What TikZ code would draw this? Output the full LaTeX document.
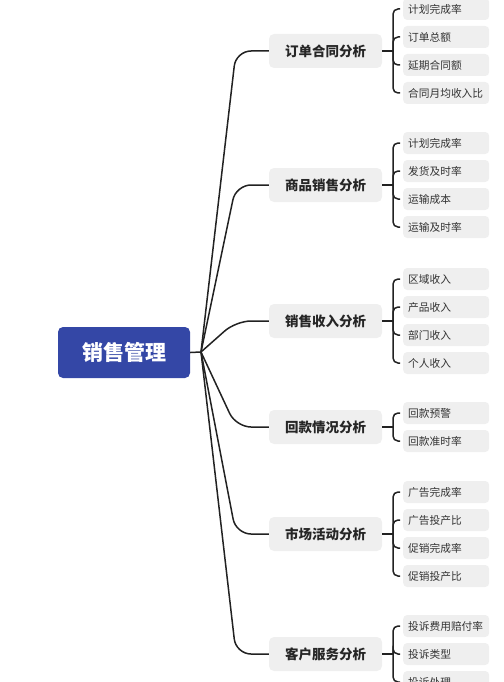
\documentclass[tikz,border=0pt]{standalone}
\usepackage{fontspec}
\setmainfont{Noto Sans CJK SC}
\definecolor{rootblue}{HTML}{3447A6}
\definecolor{boxgray}{HTML}{EFEFEF}
\definecolor{linegray}{HTML}{222222}
\tikzset{
  rootbox/.style={fill=rootblue, text=white, rounded corners=5pt, minimum width=132pt, minimum height=51pt, font=\fontsize{21}{24}\selectfont\bfseries},
  midbox/.style={fill=boxgray, text=black!85, rounded corners=5pt, minimum width=113pt, minimum height=34pt, font=\fontsize{13.5}{16}\selectfont\bfseries},
  leafbox/.style={fill=boxgray, text=black!80, rounded corners=4pt, minimum height=22pt, inner xsep=5pt, text width=76pt, align=left, anchor=west, font=\fontsize{10.7}{13}\selectfont},
  link/.style={draw=linegray, line width=1.5pt, rounded corners=15pt},
}
\begin{document}
\begin{tikzpicture}[x=1pt,y=-1pt]
  \useasboundingbox (0,0) rectangle (503,682);
  \node[rootbox] (root) at (124,352.5) {销售管理};
  \coordinate (fan) at (201,352);
  \draw[link] (root.east) -- (fan);
  % branches and their leaves
  \foreach \i/\y/\c/\names/\txt in {
      1/51/4/{计划完成率,订单总额,延期合同额,合同月均收入比}/订单合同分析,
      2/185/4/{计划完成率,发货及时率,运输成本,运输及时率}/商品销售分析,
      3/321/4/{区域收入,产品收入,部门收入,个人收入}/销售收入分析,
      4/427/2/{回款预警,回款准时率}/回款情况分析,
      5/534/4/{广告完成率,广告投产比,促销完成率,促销投产比}/市场活动分析,
      6/654/3/{投诉费用赔付率,投诉类型,投诉处理}/客户服务分析} {
    \node[midbox] (m\i) at (325.5,\y) {\txt};
    \draw[link] (fan) -- (236,\y) -- (m\i.west);
    \coordinate (b\i) at (393,\y);
    \draw[link] (m\i.east) -- (b\i);
    \foreach \n [count=\k] in \names {
      \pgfmathsetmacro\ly{\y+(\k-(\c+1)/2)*28}
      \node[leafbox] (l\i-\k) at (403,\ly) {\n};
      \draw[link, rounded corners=5pt, shorten >=3pt] (b\i) |- (l\i-\k.west);
    }
  }
\end{tikzpicture}
\end{document}
